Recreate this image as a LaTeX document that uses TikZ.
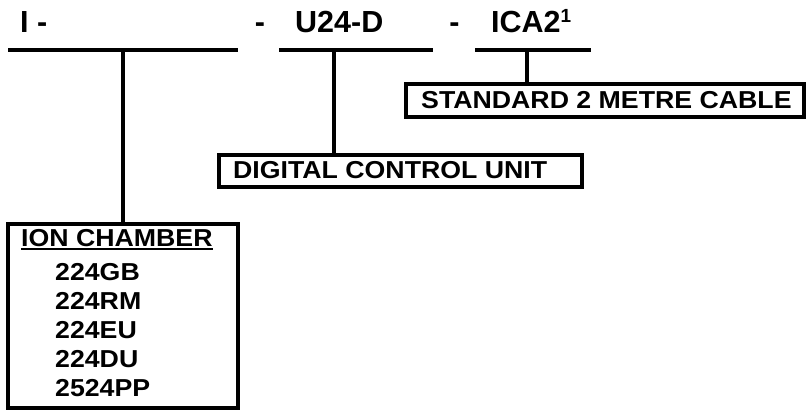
\documentclass[tikz,border=0pt]{standalone}
\usepackage{fontspec}
\setmainfont{Liberation Sans}
\newfontfamily\boxfont{Liberation Sans}[FakeStretch=1.09]
\begin{document}
\begin{tikzpicture}[x=1pt,y=-1pt,
  rule/.style={line width=4pt},
  box/.style={draw, line width=4pt, inner sep=0pt, outer sep=0pt, anchor=north west},
  toptxt/.style={font=\fontsize{30.5}{30.5}\selectfont\bfseries, inner sep=0pt},
  boxtxt/.style={font=\boxfont\fontsize{24.5}{24.5}\selectfont\bfseries, anchor=base west, inner sep=0pt}]
\useasboundingbox (0,0) rectangle (807,411);
% top labels
\node[toptxt, anchor=base west] (pI) at (20,33) {I -};
\node[toptxt, anchor=base] (d1) at (260,33) {-};
\node[toptxt, anchor=base west] (pU) at (295,33) {U24-D};
\node[toptxt, anchor=base] (d2) at (454.5,33) {-};
\node[toptxt, anchor=base west] (pC) at (491,33) {ICA2{\fontsize{19}{19}\selectfont\raisebox{10pt}{1}}};
% rules
\coordinate (l1a) at (8,50);   \coordinate (l1b) at (238,50);
\coordinate (l2a) at (279,50); \coordinate (l2b) at (433,50);
\coordinate (l3a) at (475,50); \coordinate (l3b) at (591,50);
\coordinate (t1) at (123,50);  \coordinate (t2) at (334,50); \coordinate (t3) at (527,50);
\draw[rule] (l1a) -- (l1b);
\draw[rule] (l2a) -- (l2b);
\draw[rule] (l3a) -- (l3b);
% boxes
\node[box, minimum width=398pt, minimum height=33pt] (std) at (406,84) {};
\node[box, minimum width=363pt, minimum height=32pt] (dcu) at (219,155) {};
\node[box, minimum width=230pt, minimum height=184pt] (ion) at (8,224) {};
% connectors
\draw[rule] (t3) -- (t3 |- std.north);
\draw[rule] (t2) -- (t2 |- dcu.north);
\draw[rule] (t1) -- (t1 |- ion.north);
% box texts
\node[boxtxt] (stdt) at (421,109) {STANDARD 2 METRE CABLE};
\node[boxtxt] (dcut) at (233,179) {DIGITAL CONTROL UNIT};
\node[boxtxt] (ionh) at (21,247) {ION CHAMBER};
\draw[line width=2pt] ([yshift=-2pt]ionh.base west) -- ([yshift=-2pt]ionh.base east);
\node[boxtxt] (m1) at (55,281) {224GB};
\node[boxtxt] (m2) at (55,310) {224RM};
\node[boxtxt] (m3) at (55,339) {224EU};
\node[boxtxt] (m4) at (55,368) {224DU};
\node[boxtxt] (m5) at (55,397) {2524PP};
\end{tikzpicture}
\end{document}
